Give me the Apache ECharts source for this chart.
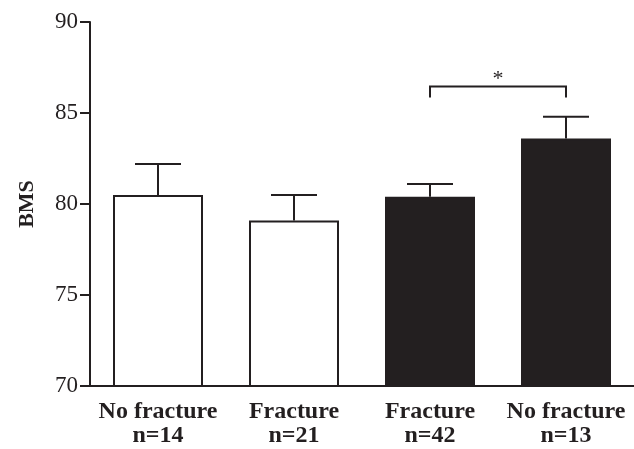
<!DOCTYPE html>
<html><head><meta charset="utf-8">
<script src="https://cdn.jsdelivr.net/npm/echarts@6/dist/echarts.min.js"></script>
<style>html,body{margin:0;padding:0;background:#fff}#c{width:634px;height:449px}</style>
</head><body><div id="c"></div>
<script>
var categories = ['No fracture\nn=14', 'Fracture\nn=21', 'Fracture\nn=42', 'No fracture\nn=13'];
var means = [80.5, 79.1, 80.4, 83.6];
var upperErr = [82.2, 80.5, 81.1, 84.8];
var barFills = ['#ffffff', '#ffffff', '#231f20', '#231f20'];
var yTicks = [70, 75, 80, 85, 90];
var bracket = { from: 2, to: 3, top: 86.45, legBottom: 85.85, label: '*' };

var ink = '#231f20';
var font = 'Liberation Serif';
var chart = echarts.init(document.getElementById('c'));

var errData = means.map(function (m, i) { return [i, m, upperErr[i]]; });

chart.setOption({
  animation: false,
  grid: { left: 90, right: 0, top: 22, bottom: 63, containLabel: false },
  xAxis: {
    type: 'category',
    data: categories,
    axisLine: { show: true, lineStyle: { color: ink, width: 2 } },
    axisTick: { show: false },
    axisLabel: { interval: 0, hideOverlap: false, color: ink, fontFamily: font, fontWeight: 'bold', fontSize: 24, lineHeight: 24, margin: 14 }
  },
  yAxis: {
    type: 'value',
    min: yTicks[0], max: yTicks[yTicks.length - 1], interval: 5,
    name: 'BMS', nameLocation: 'middle', nameGap: 52,
    nameTextStyle: { color: ink, fontFamily: font, fontWeight: 'bold', fontSize: 22 },
    splitLine: { show: false },
    axisLine: { show: true, lineStyle: { color: ink, width: 2 } },
    axisTick: { show: true, length: 10, lineStyle: { color: ink, width: 2 } },
    axisLabel: { color: ink, fontFamily: font, fontSize: 23, margin: 12 }
  },
  series: [
    {
      type: 'bar',
      barWidth: 90,
      data: means.map(function (v, i) {
        return { value: v, itemStyle: { color: barFills[i], borderColor: ink, borderWidth: 2 } };
      }),
      z: 2
    },
    {
      type: 'custom',
      data: errData,
      z: 3,
      renderItem: function (params, api) {
        var x = api.value(0);
        var base = api.coord([x, api.value(1)]);
        var top = api.coord([x, api.value(2)]);
        var hw = 23;
        return {
          type: 'group',
          children: [
            { type: 'line', shape: { x1: base[0], y1: base[1], x2: top[0], y2: top[1] }, style: { stroke: ink, lineWidth: 2 } },
            { type: 'line', shape: { x1: top[0] - hw, y1: top[1], x2: top[0] + hw, y2: top[1] }, style: { stroke: ink, lineWidth: 2 } }
          ]
        };
      }
    },
    {
      type: 'custom',
      data: [[bracket.from, bracket.to, bracket.top, bracket.legBottom]],
      z: 3,
      renderItem: function (params, api) {
        var a = api.coord([api.value(0), api.value(2)]);
        var b = api.coord([api.value(1), api.value(2)]);
        var la = api.coord([api.value(0), api.value(3)]);
        return {
          type: 'group',
          children: [
            { type: 'polyline', shape: { points: [[a[0], la[1]], [a[0], a[1]], [b[0], b[1]], [b[0], la[1]]] }, style: { stroke: ink, lineWidth: 2, fill: null } },
            { type: 'text', style: { text: bracket.label, x: (a[0] + b[0]) / 2, y: a[1] - 7, textAlign: 'center', textVerticalAlign: 'middle', fill: ink, font: '22px "Liberation Serif"' } }
          ]
        };
      }
    }
  ]
});
</script></body></html>
